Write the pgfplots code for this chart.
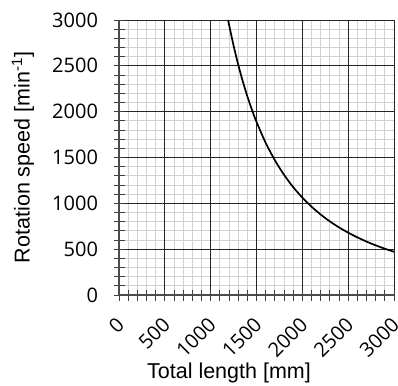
\documentclass[border=0pt]{standalone}
\usepackage{pgfplots}
\pgfplotsset{compat=1.18}
\usepackage{fontspec}
\setmainfont{Liberation Sans}
\newfontfamily\tickfont{Open Sans}
\begin{document}
\begin{tikzpicture}
\useasboundingbox (0,0) rectangle (398pt,385pt);
\begin{axis}[
  at={(119pt,90pt)}, anchor=south west,
  scale only axis, width=275pt, height=275pt,
  xmin=0, xmax=3000, ymin=0, ymax=3000,
  axis lines=left, axis line style={-, draw=black!70, line width=1.2pt},
  xtick={0,500,...,3000}, ytick={0,500,...,3000},
  minor x tick num=4, minor y tick num=4,
  grid=minor,
  minor grid style={draw=black!18, line width=0.7pt},
  extra x ticks={500,1000,...,3000}, extra y ticks={500,1000,...,3000},
  extra x tick labels={}, extra y tick labels={},
  extra tick style={grid=major, major grid style={draw=black!85, line width=0.8pt}},
  tick align=center,
  major tick length=11pt, minor tick length=11pt,
  every tick/.style={draw=black!75, line width=0.7pt},
  /pgf/number format/assume math mode=true,
  /pgf/number format/1000 sep={},
  xticklabel style={font=\tickfont\fontsize{20}{24}\selectfont, xshift=4pt, yshift=-18pt, rotate=45, anchor=east},
  yticklabel style={font=\tickfont\fontsize{20}{24}\selectfont, xshift=-12pt},
  label style={font=\fontsize{21.5}{25}\selectfont},
  xlabel={Total length [mm]},
  ylabel={Rotation speed [min\textsuperscript{-1}]},
  xlabel style={at={(axis description cs:0.4,0)}, anchor=base, yshift=-83pt},
  ylabel style={at={(axis description cs:-0.349,0.5)}, anchor=center, rotate=0},
  clip=true,
]
\addplot[black, line width=1.7pt, smooth] coordinates {
(1190,3001) (1200,2951) (1250,2720) (1300,2515) (1350,2332) (1400,2168)
(1450,2021) (1500,1889) (1600,1660) (1700,1471) (1800,1312) (1900,1177)
(2000,1063) (2100,964) (2200,878) (2300,803) (2400,738) (2500,680)
(2600,629) (2700,583) (2800,542) (2900,505) (3000,472)
};
\end{axis}
\end{tikzpicture}
\end{document}
